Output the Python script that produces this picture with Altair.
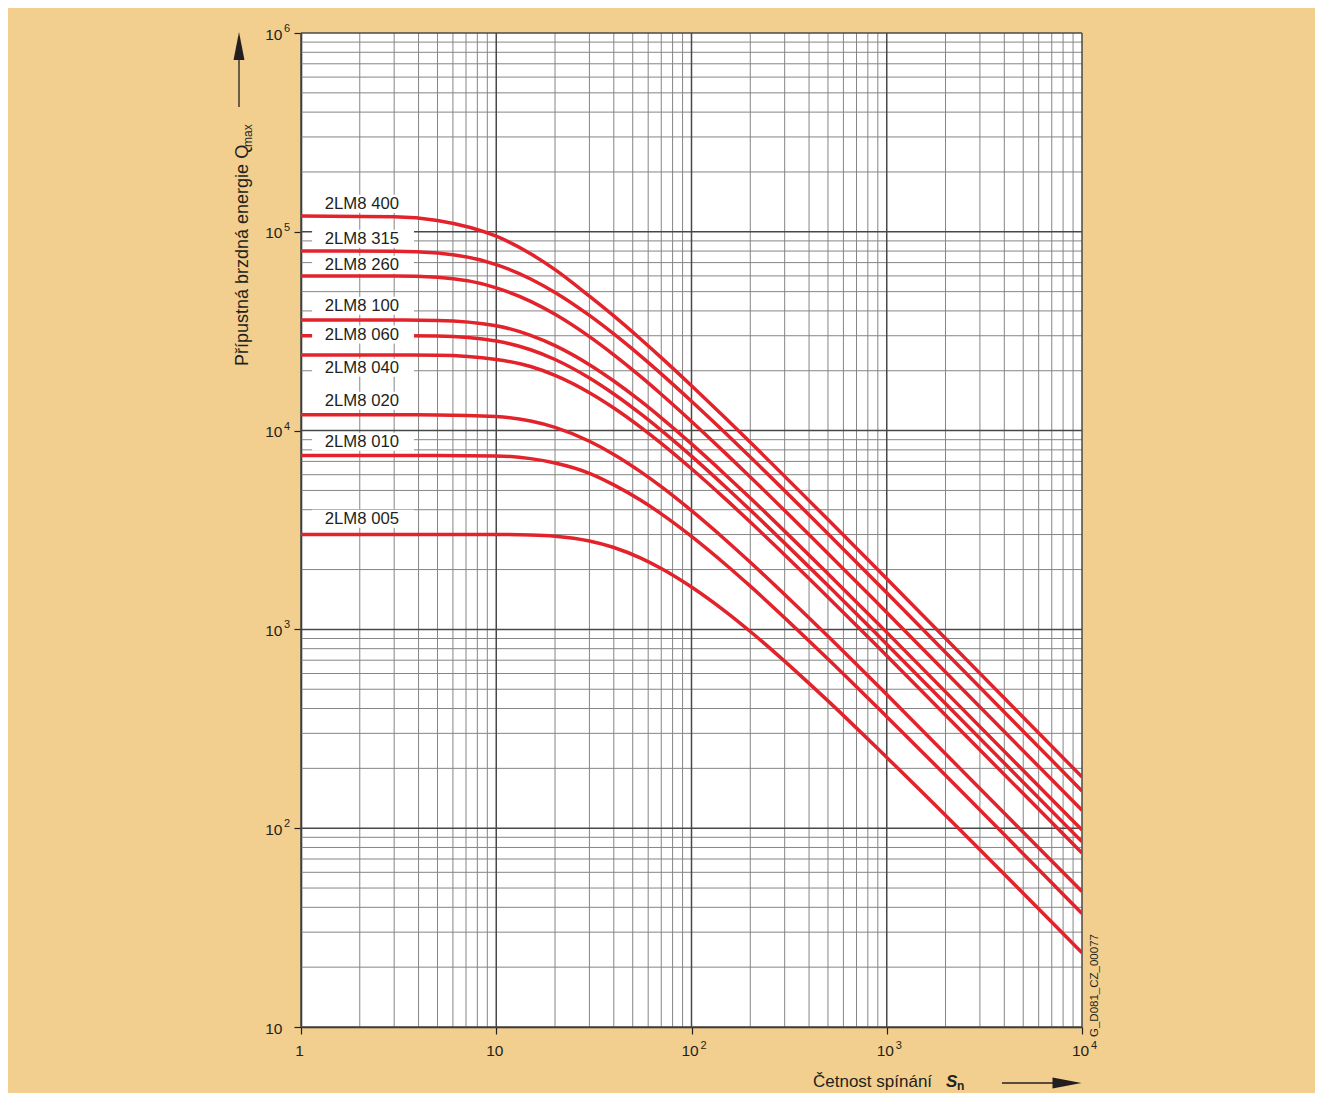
import altair as alt
import pandas as pd

FONT = "Liberation Sans, Arial, sans-serif"
INK = "#231F20"
RED = "#E3232B"

# switching frequency samples (Sn, 1/h)
S = [1, 3, 5, 10, 15, 20, 30, 40, 55, 70, 100, 150, 200, 500, 1000, 10000]

series_names = ["2LM8 400", "2LM8 315", "2LM8 260", "2LM8 100", "2LM8 060",
                "2LM8 040", "2LM8 020", "2LM8 010", "2LM8 005"]

q_400 = [120000, 119200, 114100, 95000, 77500, 64500, 47460, 37730, 28800, 23280,
         16820, 11500, 8730, 3570, 1799, 181]
q_315 = [80000, 79870, 78300, 68400, 57900, 49520, 37950, 30620, 23680, 19280,
         14040, 9660, 7360, 3029, 1529, 154]
q_260 = [60000, 59930, 59000, 52280, 44700, 38470, 29700, 24060, 18670, 15230,
         11120, 7660, 5845, 2410, 1217, 123]
q_100 = [36000, 36000, 35840, 33700, 30130, 26760, 21460, 17760, 14050, 11590,
         8572, 5968, 4580, 1906, 966, 98]
q_060 = [30000, 30000, 29900, 28200, 25510, 22790, 18400, 15290, 12130, 10030,
         7440, 5190, 3984, 1662, 843, 85.5]
q_040 = [24000, 24000, 23950, 22800, 21000, 18960, 15520, 13000, 10390, 8630,
         6430, 4507, 3466, 1452, 737, 75]
q_020 = [12000, 12000, 11996, 11780, 11170, 10380, 8837, 7585, 6200, 5224,
         3956, 2810, 2176, 923, 470, 48]
q_010 = [7500, 7500, 7500, 7460, 7227, 6875, 6100, 5335, 4462, 3813,
         2937, 2115, 1650, 710, 364, 37.2]
q_005 = [3000, 3000, 3000, 3000, 2984, 2941, 2782, 2581, 2283, 2025,
         1634, 1225, 976, 437, 227, 23.6]

all_q = [q_400, q_315, q_260, q_100, q_060, q_040, q_020, q_010, q_005]

# label anchor values (Q) for the series names
label_q = [138500, 92300, 68300, 42500, 30400, 20700, 14140, 8800, 3606]

x_major = [1, 10, 100, 1000, 10000]
x_exp = ["", "", "2", "3", "4"]
y_major = [10, 100, 1000, 10000, 100000, 1000000]
y_exp = ["", "2", "3", "4", "5", "6"]
minor_mult = [2, 3, 4, 5, 6, 7, 8, 9]

# ---------------------------------------------------------------- tables
rows = []
for name, qs in zip(series_names, all_q):
    for s, q in zip(S, qs):
        rows.append({"S": s, "Q": q, "series": name})
curves = pd.DataFrame(rows)

x_minor = pd.DataFrame({"S": [d * m for d in x_major[:-1] for m in minor_mult]})
y_minor = pd.DataFrame({"Q": [d * m for d in y_major[:-1] for m in minor_mult]})
x_maj = pd.DataFrame({"S": x_major, "e": x_exp})
y_maj = pd.DataFrame({"Q": y_major, "e": y_exp})

LABEL_X = 2.05
BOX_X1, BOX_X2 = 1.14, 3.79
BOX_F = 1.11
labels = pd.DataFrame({"text": series_names, "Q": label_q})
labels["S"] = LABEL_X
labels["S1"] = BOX_X1
labels["S2"] = BOX_X2
labels["Qa"] = labels["Q"] * BOX_F
labels["Qb"] = labels["Q"] / BOX_F

# ---------------------------------------------------------------- scales / axes
xs = alt.Scale(type="log", domain=[1, 10000], nice=False)
ys = alt.Scale(type="log", domain=[10, 1000000], nice=False)

xaxis = alt.Axis(
    values=x_major, title=None, grid=False,
    labelExpr="datum.value < 5 ? '1' : '10'",
    labelFont=FONT, labelFontSize=15.5, labelColor=INK, labelPadding=9,
    labelFlush=False, labelOverlap=False, labelOffset=-2,
    tickSize=7, tickColor=INK, tickWidth=1.2,
    domainColor=INK, domainWidth=1.5,
)
yaxis = alt.Axis(
    values=y_major, title=None, grid=False,
    labelExpr="'10'",
    labelFont=FONT, labelFontSize=15.5, labelColor=INK, labelPadding=12,
    labelFlush=False, labelOverlap=False, labelOffset=1,
    tickSize=7, tickColor=INK, tickWidth=1.2,
    domainColor=INK, domainWidth=1.5,
)

X = lambda f: alt.X(f"{f}:Q", scale=xs, axis=xaxis)
Y = lambda f: alt.Y(f"{f}:Q", scale=ys, axis=yaxis)

grid_xminor = alt.Chart(x_minor).mark_rule(color="#858585", strokeWidth=1).encode(x=X("S"))
grid_yminor = alt.Chart(y_minor).mark_rule(color="#858585", strokeWidth=1).encode(y=Y("Q"))
grid_xmajor = alt.Chart(x_maj).mark_rule(color="#484848", strokeWidth=1.5).encode(x=X("S"))
grid_ymajor = alt.Chart(y_maj).mark_rule(color="#484848", strokeWidth=1.5).encode(y=Y("Q"))

# exponents of the tick labels
x_exp_text = alt.Chart(x_maj).mark_text(
    font=FONT, fontSize=11, color=INK, align="left", baseline="middle", dx=9
).encode(x=X("S"), y=alt.value(1012.5), text="e:N")
y_exp_text = alt.Chart(y_maj).mark_text(
    font=FONT, fontSize=11, color=INK, align="left", baseline="middle", dy=-4
).encode(x=alt.value(-17), y=Y("Q"), text="e:N")

lines = alt.Chart(curves).mark_line(
    color=RED, strokeWidth=3.5, interpolate="monotone", clip=True
).encode(x=X("S"), y=Y("Q"), detail="series:N")

boxes = alt.Chart(labels).mark_rect(color="white").encode(
    x=X("S1"), x2="S2", y=Y("Qa"), y2="Qb"
)
label_text = alt.Chart(labels).mark_text(
    font=FONT, fontSize=16.7, color=INK, align="center", baseline="middle"
).encode(x=X("S"), y=Y("Q"), text="text:N")

# ---------------------------------------------------------------- annotations (pixel placed)
one = lambda t: pd.DataFrame({"t": [t]})

ytitle = alt.Chart(one("Přípustná brzdná energie Q")).mark_text(
    font=FONT, fontSize=18, color=INK, angle=270, align="left", baseline="alphabetic"
).encode(text="t:N", x=alt.value(-53), y=alt.value(333))
ytitle_sub = alt.Chart(one("max")).mark_text(
    font=FONT, fontSize=12, color=INK, angle=270, align="left", baseline="alphabetic"
).encode(text="t:N", x=alt.value(-49), y=alt.value(114))
yarrow_line = alt.Chart(one("a")).mark_rule(color=INK, strokeWidth=1.3).encode(
    x=alt.value(-62), y=alt.value(25), y2=alt.value(74)
)
yarrow_head = alt.Chart(one("a")).mark_point(
    shape="M0,-1L0.39,1L-0.39,1Z", filled=True, color=INK, opacity=1, size=784
).encode(x=alt.value(-62), y=alt.value(13))

xtitle = alt.Chart(one("Četnost spínání")).mark_text(
    font=FONT, fontSize=17, color=INK, align="left", baseline="alphabetic"
).encode(text="t:N", x=alt.value(512), y=alt.value(1054))
xtitle_s = alt.Chart(one("S")).mark_text(
    font=FONT, fontSize=17, fontWeight="bold", fontStyle="italic", color=INK,
    align="left", baseline="alphabetic"
).encode(text="t:N", x=alt.value(645), y=alt.value(1054))
xtitle_n = alt.Chart(one("n")).mark_text(
    font=FONT, fontSize=12, fontWeight="bold", color=INK, align="left", baseline="alphabetic"
).encode(text="t:N", x=alt.value(656), y=alt.value(1057))
xarrow_line = alt.Chart(one("a")).mark_rule(color=INK, strokeWidth=1.3).encode(
    x=alt.value(701), x2=alt.value(760), y=alt.value(1050)
)
xarrow_head = alt.Chart(one("a")).mark_point(
    shape="M1,0L-1,0.38L-1,-0.38Z", filled=True, color=INK, opacity=1, size=841
).encode(x=alt.value(766), y=alt.value(1050))

code_id = alt.Chart(one("G_D081_CZ_00077")).mark_text(
    font=FONT, fontSize=11.5, color=INK, angle=270, align="left", baseline="alphabetic"
).encode(text="t:N", x=alt.value(797), y=alt.value(1004))

chart = alt.layer(
    grid_xminor, grid_yminor, grid_xmajor, grid_ymajor,
    lines, boxes, label_text, x_exp_text, y_exp_text,
    ytitle, ytitle_sub, yarrow_line, yarrow_head,
    xtitle, xtitle_s, xtitle_n, xarrow_line, xarrow_head, code_id,
).properties(
    width=781, height=994,
    autosize=alt.AutoSizeParams(type="none"),
    padding={"left": 293, "top": 25, "right": 233, "bottom": 66},
    background="#F2CF8E",
).configure_view(stroke=None, fill="white")

chart.save("out.html", embed_options={"renderer": "svg", "actions": False})
